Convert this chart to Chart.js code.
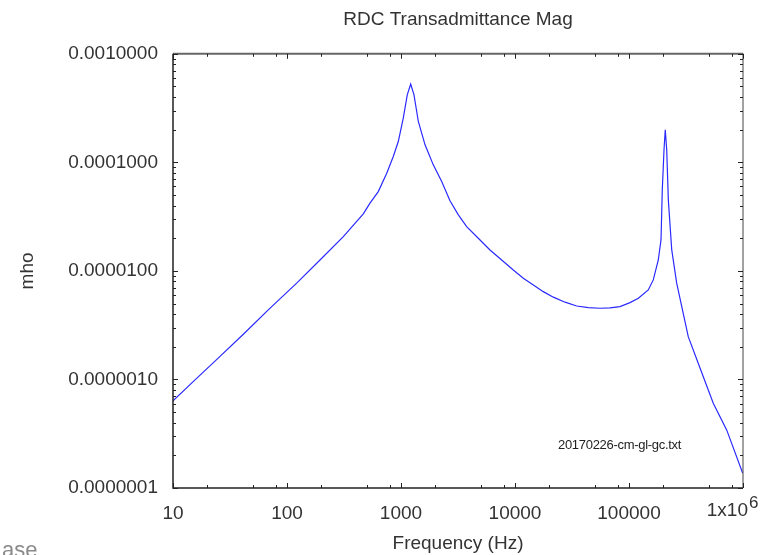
<!DOCTYPE html>
<html>
<head>
<meta charset="utf-8">
<script src="https://cdn.jsdelivr.net/npm/chart.js@4/dist/chart.umd.min.js"></script>
<style>
  html, body { margin: 0; padding: 0; background: #fff; }
  #wrap { position: relative; width: 784px; height: 555px; }
</style>
</head>
<body>
<div id="wrap"><canvas id="chart" width="784" height="555"></canvas></div>
<script>
// RDC transadmittance magnitude (log-log)
const freqHz = [
    10, 15.6, 24.9, 41.4, 68.5, 121.6, 194.7, 311.9, 467, 534.6, 632, 749.6, 855.5, 946.6,
    1047, 1135, 1216, 1300, 1419, 1625, 1919, 2275, 2690, 3184, 3767, 4764, 6036, 7640, 9662,
    11830, 14490, 17700, 21700, 27470, 34760, 43970, 55700, 68110, 83400, 102000, 120800,
    147600, 163300, 180700, 190900, 195900, 202800, 208000, 214300, 221300, 237100, 262000,
    331000, 448500, 548500, 719000, 993000
];
const magMho = [
    6.34e-7, 9.9e-7, 1.57e-6, 2.61e-6, 4.37e-6, 7.71e-6, 1.26e-5, 2.07e-5, 3.35e-5, 4.21e-5, 5.38e-5, 7.95e-5, 1.131e-4, 1.556e-4,
    2.55e-4, 4.19e-4, 5.26e-4, 4.19e-4, 2.38e-4, 1.45e-4, 9.48e-5, 6.65e-5, 4.42e-5, 3.28e-5, 2.56e-5, 2.0e-5, 1.56e-5, 1.26e-5, 1.02e-5,
    8.57e-6, 7.43e-6, 6.44e-6, 5.73e-6, 5.15e-6, 4.75e-6, 4.59e-6, 4.53e-6, 4.56e-6, 4.69e-6, 5.10e-6, 5.60e-6,
    6.68e-6, 8.26e-6, 1.26e-5, 1.93e-5, 5.58e-5, 1.30e-4, 2.0e-4, 1.30e-4, 4.51e-5, 1.56e-5, 7.71e-6,
    2.48e-6, 1.06e-6, 6.04e-7, 3.43e-7, 1.37e-7
];

const xTicks = [10, 100, 1000, 10000, 100000, 1000000];
const yTicks = [1e-7, 1e-6, 1e-5, 1e-4, 1e-3];
const xMinor = [2, 5, 8];
const yMinor = [2, 3, 4, 5, 6, 7, 8, 9];

const FONT = "'Liberation Sans', Arial, sans-serif";
const TXT = '#333';

// frame with inward ticks on all four sides + extra text
const framePlugin = {
    id: 'frame',
    afterDraw(chart) {
        const ctx = chart.ctx;
        const a = chart.chartArea;
        const xs = chart.scales.x, ys = chart.scales.y;
        ctx.save();

        // border
        ctx.strokeStyle = '#666';
        ctx.lineWidth = 2;
        ctx.beginPath(); ctx.moveTo(a.left, a.top); ctx.lineTo(a.right, a.top); ctx.stroke();
        ctx.strokeStyle = '#222';
        ctx.lineWidth = 1.5;
        ctx.beginPath();
        ctx.moveTo(a.left, a.top); ctx.lineTo(a.left, a.bottom); ctx.lineTo(a.right, a.bottom);
        ctx.stroke();
        ctx.strokeStyle = '#444';
        ctx.lineWidth = 1;
        ctx.beginPath(); ctx.moveTo(a.right, a.top); ctx.lineTo(a.right, a.bottom); ctx.stroke();

        // ticks
        ctx.strokeStyle = '#222';
        ctx.lineWidth = 1;
        const tickX = (v, len) => {
            const px = Math.round(xs.getPixelForValue(v)) + 0.5;
            ctx.beginPath();
            ctx.moveTo(px, a.bottom); ctx.lineTo(px, a.bottom - len);
            ctx.moveTo(px, a.top); ctx.lineTo(px, a.top + len);
            ctx.stroke();
        };
        const tickY = (v, len) => {
            const py = Math.round(ys.getPixelForValue(v)) + 0.5;
            ctx.beginPath();
            ctx.moveTo(a.left, py); ctx.lineTo(a.left + len, py);
            ctx.moveTo(a.right, py); ctx.lineTo(a.right - len, py);
            ctx.stroke();
        };
        xTicks.forEach((d, i) => {
            tickX(d, 5);
            if (i < xTicks.length - 1) xMinor.forEach(m => tickX(d * m, 3));
        });
        yTicks.forEach((d, i) => {
            tickY(d, 5);
            if (i < yTicks.length - 1) yMinor.forEach(m => tickY(d * m, 3));
        });

        // 1x10^6 label
        const px6 = xs.getPixelForValue(1e6);
        ctx.fillStyle = TXT;
        ctx.textBaseline = 'middle';
        ctx.font = '19px ' + FONT;
        ctx.textAlign = 'right';
        ctx.fillText('1x10', px6 + 5, 511);
        ctx.font = '17px ' + FONT;
        ctx.textAlign = 'left';
        ctx.fillText('6', px6 + 6, 503);

        // file name annotation
        ctx.font = '13px ' + FONT;
        ctx.letterSpacing = '-0.3px';
        ctx.fillStyle = '#222';
        ctx.fillText('20170226-cm-gl-gc.txt', a.left + 385, 445);

        // clipped leftover text at the bottom-left edge
        ctx.letterSpacing = '0px';
        ctx.font = '22px ' + FONT;
        ctx.fillStyle = '#8a8a8a';
        ctx.textBaseline = 'alphabetic';
        ctx.fillText('ase', 2, 557);
        ctx.restore();
    }
};

const chart = new Chart(document.getElementById('chart').getContext('2d'), {
    type: 'line',
    data: {
        datasets: [{
            data: freqHz.map((f, i) => ({ x: f, y: magMho[i] })),
            borderColor: '#2a2aff',
            borderWidth: 1.2,
            pointRadius: 0,
            tension: 0,
            fill: false
        }]
    },
    options: {
        responsive: false,
        animation: false,
        events: [],
        layout: { padding: { top: 0, right: 41, bottom: 0, left: 16 } },
        plugins: {
            legend: { display: false },
            tooltip: { enabled: false },
            title: {
                display: true,
                fullSize: false,
                text: 'RDC Transadmittance Mag',
                color: TXT,
                font: { family: FONT, size: 19, weight: 'normal' },
                padding: { top: 8, bottom: 23 }
            }
        },
        scales: {
            x: {
                type: 'logarithmic',
                min: 10, max: 1e6,
                afterBuildTicks: s => { s.ticks = xTicks.map(v => ({ value: v })); },
                afterFit: s => { s.height = 67; },
                grid: { display: false, drawTicks: false },
                border: { display: false },
                ticks: {
                    autoSkip: false, maxRotation: 0, padding: 14,
                    color: TXT, font: { family: FONT, size: 19 },
                    callback: v => (v === 1e6 ? '' : String(v))
                },
                title: {
                    display: true, text: 'Frequency (Hz)',
                    color: TXT, font: { family: FONT, size: 19 }, padding: 0
                }
            },
            y: {
                type: 'logarithmic',
                min: 1e-7, max: 1e-3,
                afterBuildTicks: s => { s.ticks = yTicks.map(v => ({ value: v })); },
                afterFit: s => { s.width = 157; },
                grid: { display: false, drawTicks: false },
                border: { display: false },
                ticks: {
                    autoSkip: false, padding: 15,
                    color: TXT, font: { family: FONT, size: 19 },
                    callback: v => Number(v).toFixed(7)
                },
                title: {
                    display: true, text: 'mho',
                    color: TXT, font: { family: FONT, size: 19 }, padding: 0
                }
            }
        }
    },
    plugins: [framePlugin]
});
</script>
</body>
</html>
